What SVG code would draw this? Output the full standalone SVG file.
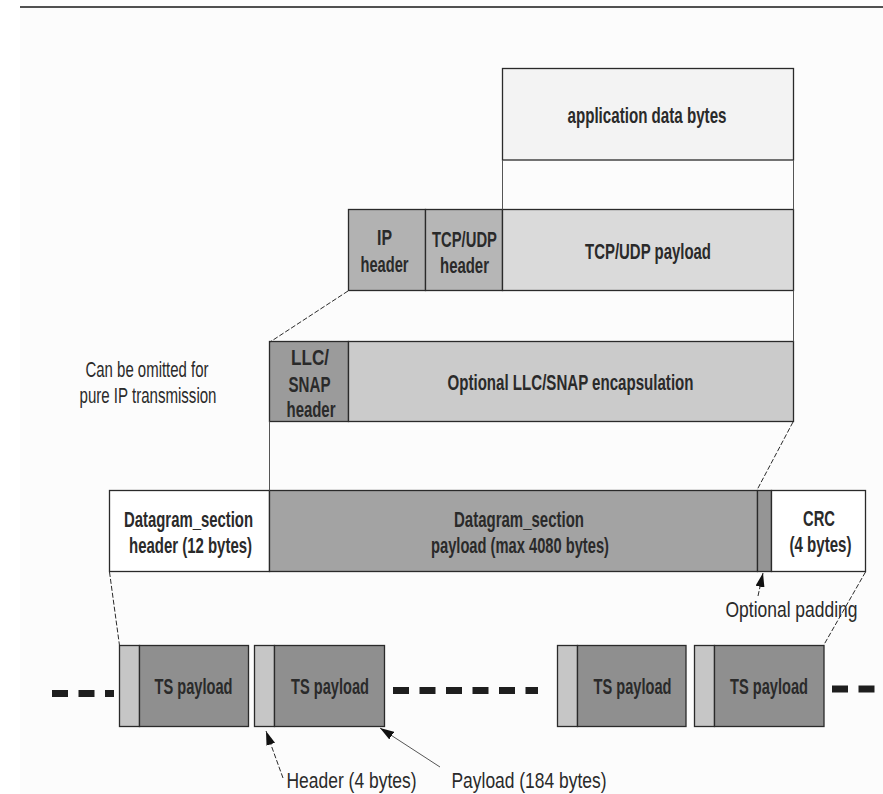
<svg xmlns="http://www.w3.org/2000/svg" width="883" height="794" viewBox="0 0 883 794">
  <style>
    .box { stroke: #2a2a2a; stroke-width: 1.3; }
    .lbl { font-family: "Liberation Sans", Arial, sans-serif; font-weight: bold; font-size: 21.5px; fill: #2a2a2a; text-anchor: middle; }
    .ann { font-family: "Liberation Sans", Arial, sans-serif; font-size: 22px; fill: #2a2a2a; }
    .dash { stroke: #2a2a2a; stroke-width: 1; stroke-dasharray: 5 2; fill: none; }
    .thin { stroke: #555; stroke-width: 1; fill: none; }
    .tsdash { stroke: #1e1e1e; stroke-width: 7; stroke-dasharray: 16 10.5; fill: none; }
  </style>
  <defs>
    <marker id="ah" viewBox="0 0 14 9" refX="14" refY="4.5" markerWidth="14" markerHeight="9" markerUnits="userSpaceOnUse" orient="auto">
      <path d="M0,0 L14,4.5 L0,9 z" fill="#111" stroke="none"/>
    </marker>
  </defs>

  <rect x="0" y="0" width="883" height="794" fill="#ffffff"/>
  <rect x="20" y="7" width="863" height="787" fill="#fcfcfc"/>
  <line x1="20" y1="7" x2="883" y2="7" stroke="#1a1a1a" stroke-width="1.5"/>

  <g id="app-data">
    <rect class="box" x="502.5" y="68.5" width="291" height="91.5" fill="#f3f3f3"/>
    <text class="lbl" x="647" y="123" textLength="159" lengthAdjust="spacingAndGlyphs">application data bytes</text>
  </g>

  <g id="ip-header">
    <rect class="box" x="348.5" y="209.5" width="77" height="81" fill="#b2b2b2"/>
    <text class="lbl" x="384.5" y="245" textLength="15" lengthAdjust="spacingAndGlyphs">IP</text>
    <text class="lbl" x="384.5" y="272" textLength="48" lengthAdjust="spacingAndGlyphs">header</text>
  </g>
  <g id="tcp-header">
    <rect class="box" x="425.5" y="209.5" width="77" height="81" fill="#b6b6b6"/>
    <text class="lbl" x="464.5" y="246.5" textLength="65" lengthAdjust="spacingAndGlyphs">TCP/UDP</text>
    <text class="lbl" x="464.5" y="273" textLength="49" lengthAdjust="spacingAndGlyphs">header</text>
  </g>
  <g id="tcp-payload">
    <rect class="box" x="502.5" y="209.5" width="291" height="81" fill="#dadada"/>
    <text class="lbl" x="648" y="259" textLength="126" lengthAdjust="spacingAndGlyphs">TCP/UDP payload</text>
  </g>

  <g id="llc-header">
    <rect class="box" x="269.5" y="341.5" width="79" height="80" fill="#9b9b9b"/>
    <text class="lbl" x="310" y="365" font-size="20" textLength="38" lengthAdjust="spacingAndGlyphs">LLC/</text>
    <text class="lbl" x="309.5" y="391.5" font-size="20" textLength="42" lengthAdjust="spacingAndGlyphs">SNAP</text>
    <text class="lbl" x="311" y="417" font-size="20" textLength="49" lengthAdjust="spacingAndGlyphs">header</text>
  </g>
  <g id="llc-encap">
    <rect class="box" x="348.5" y="341.5" width="445" height="80" fill="#cbcbcb"/>
    <text class="lbl" x="570.5" y="389.5" textLength="246" lengthAdjust="spacingAndGlyphs">Optional LLC/SNAP encapsulation</text>
  </g>

  <g id="omit-note">
    <text class="ann" x="147" y="377" text-anchor="middle" textLength="123" lengthAdjust="spacingAndGlyphs">Can be omitted for</text>
    <text class="ann" x="148" y="403" text-anchor="middle" textLength="137" lengthAdjust="spacingAndGlyphs">pure IP transmission</text>
  </g>

  <g id="ds-header">
    <rect class="box" x="109.5" y="490.5" width="160" height="81" fill="#ffffff"/>
    <text class="lbl" x="188.5" y="527" textLength="129" lengthAdjust="spacingAndGlyphs">Datagram_section</text>
    <text class="lbl" x="190.5" y="553" textLength="123" lengthAdjust="spacingAndGlyphs">header (12 bytes)</text>
  </g>
  <g id="ds-payload">
    <rect class="box" x="269.5" y="490.5" width="488" height="81" fill="#a3a3a3"/>
    <text class="lbl" x="519" y="527" textLength="130" lengthAdjust="spacingAndGlyphs">Datagram_section</text>
    <text class="lbl" x="520" y="553" textLength="178" lengthAdjust="spacingAndGlyphs">payload (max 4080 bytes)</text>
  </g>
  <g id="ds-padding">
    <rect class="box" x="757.5" y="490.5" width="14" height="81" fill="#959595"/>
  </g>
  <g id="ds-crc">
    <rect class="box" x="771.5" y="490.5" width="94" height="81" fill="#ffffff"/>
    <text class="lbl" x="819" y="525.5" textLength="32" lengthAdjust="spacingAndGlyphs">CRC</text>
    <text class="lbl" x="820.5" y="552" textLength="62" lengthAdjust="spacingAndGlyphs">(4 bytes)</text>
  </g>

  <g id="padding-note">
    <text class="ann" x="791.5" y="617" font-size="26" text-anchor="middle" textLength="132" lengthAdjust="spacingAndGlyphs">Optional padding</text>
  </g>

  <g id="ts1">
    <rect class="box" x="119.5" y="645.5" width="20" height="81" fill="#c6c6c6"/>
    <rect class="box" x="139.5" y="645.5" width="109" height="81" fill="#8f8f8f"/>
    <text class="lbl" x="193.5" y="694" font-size="21" textLength="78" lengthAdjust="spacingAndGlyphs">TS payload</text>
  </g>
  <g id="ts2">
    <rect class="box" x="254.5" y="645.5" width="20" height="81" fill="#c6c6c6"/>
    <rect class="box" x="274.5" y="645.5" width="110" height="81" fill="#8f8f8f"/>
    <text class="lbl" x="330" y="694" font-size="21" textLength="78" lengthAdjust="spacingAndGlyphs">TS payload</text>
  </g>
  <g id="ts3">
    <rect class="box" x="557.5" y="645.5" width="20" height="81" fill="#c6c6c6"/>
    <rect class="box" x="577.5" y="645.5" width="108.5" height="81" fill="#8f8f8f"/>
    <text class="lbl" x="632.5" y="694" font-size="21" textLength="78" lengthAdjust="spacingAndGlyphs">TS payload</text>
  </g>
  <g id="ts4">
    <rect class="box" x="694.5" y="645.5" width="20" height="81" fill="#c6c6c6"/>
    <rect class="box" x="714.5" y="645.5" width="109.5" height="81" fill="#8f8f8f"/>
    <text class="lbl" x="769" y="694" font-size="21" textLength="78" lengthAdjust="spacingAndGlyphs">TS payload</text>
  </g>

  <g id="header-note">
    <text class="ann" x="286.5" y="788" font-size="27" textLength="130" lengthAdjust="spacingAndGlyphs">Header (4 bytes)</text>
  </g>
  <g id="payload-note">
    <text class="ann" x="451.5" y="788" font-size="27" textLength="155" lengthAdjust="spacingAndGlyphs">Payload (184 bytes)</text>
  </g>

  <g id="connectors">
    <line class="thin" x1="502.5" y1="160" x2="502.5" y2="209.5"/>
    <line class="thin" x1="793.5" y1="160" x2="793.5" y2="209.5"/>
    <line class="thin" x1="793.5" y1="290.5" x2="793.5" y2="341.5"/>
    <line class="thin" x1="269.5" y1="421.5" x2="269.5" y2="490.5"/>
    <line class="dash" x1="348" y1="291" x2="270" y2="342"/>
    <line class="dash" x1="793" y1="422" x2="757" y2="490"/>
    <line class="dash" x1="109.5" y1="572" x2="119.5" y2="645.5"/>
    <line class="dash" x1="865.5" y1="572" x2="823.5" y2="645.5"/>
    <line class="tsdash" x1="52" y1="693.5" x2="114" y2="693.5"/>
    <line class="tsdash" x1="393" y1="690.5" x2="538" y2="690.5"/>
    <line class="tsdash" x1="832" y1="689" x2="875" y2="689"/>
    <line class="dash" x1="283" y1="778" x2="266" y2="731" marker-end="url(#ah)"/>
    <line class="thin" stroke="#1a1a1a" x1="440" y1="767" x2="380" y2="728" marker-end="url(#ah)"/>
    <line class="dash" x1="758" y1="596" x2="763" y2="573" marker-end="url(#ah)"/>
  </g>
</svg>
